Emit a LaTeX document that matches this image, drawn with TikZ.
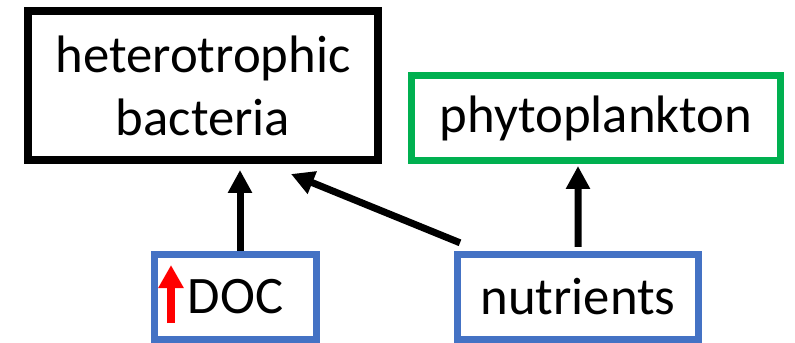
\documentclass[tikz,border=0pt]{standalone}
\usepackage{fontspec}
\setmainfont{Carlito}
\usetikzlibrary{arrows.meta}
\definecolor{boxblue}{RGB}{68,114,196}
\definecolor{boxgreen}{RGB}{0,176,80}

\begin{document}
\begin{tikzpicture}[
    box/.style={draw,inner sep=0pt,align=center,font=\fontsize{37.5}{44.8}\selectfont},
    flow/.style={-{Triangle[length=0.575cm,width=0.575cm]},line width=0.175cm,black}
  ]
    \useasboundingbox (0,0) rectangle (19.875,-8.575);

    % organisms
    \node[box,line width=0.2cm,minimum width=8.75cm,minimum height=3.725cm] (bact) at (5.075,-2.1375) {heterotrophic\\bacteria};
    \node[box,boxgreen,text=black,line width=0.175cm,minimum width=9.225cm,minimum height=2.125cm] (phyto) at (14.9,-2.95) {phytoplankton};

    % resources
    \node[box,boxblue,text=black,line width=0.175cm,minimum width=4.05cm,minimum height=2.125cm] (doc) at (5.8875,-7.42) {DOC};
    \node[box,boxblue,text=black,line width=0.175cm,minimum width=6.025cm,minimum height=2.125cm] (nutr) at (14.45,-7.42) {nutrients};

    % red arrow in front of DOC
    \draw[-{Triangle[length=0.575cm,width=0.6cm]},line width=0.2cm,red] ([shift={(0.5,-0.656)}]doc.west) -- ([shift={(0.5,0.794)}]doc.west);

    % uptake
    \draw[flow] ([xshift=0.1125cm]doc.north) -- ([shift={(0.925,-0.15)}]bact.south);
    \draw[flow] ([shift={(0.15,0.2)}]nutr.north west) -- ([shift={(2.2,-0.25)}]bact.south);
    \draw[flow] ([yshift=0.1cm]nutr.north) -- ([shift={(-0.45,-0.05)}]phyto.south);
\end{tikzpicture}
\end{document}
